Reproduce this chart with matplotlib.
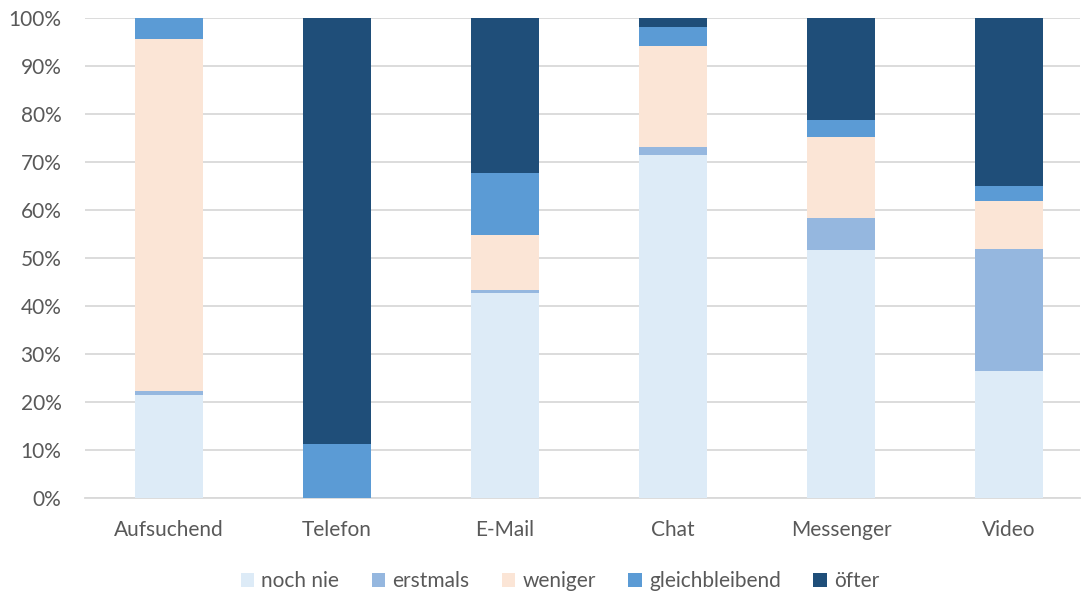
import matplotlib
matplotlib.use("Agg")
import matplotlib.pyplot as plt
import numpy as np

categories = ["Aufsuchend", "Telefon", "E-Mail", "Chat", "Messenger", "Video"]
series_names = ["noch nie", "erstmals", "weniger", "gleichbleibend", "öfter"]
noch_nie = [21.5, 0.0, 42.7, 71.5, 51.6, 26.5]
erstmals = [0.7, 0.0, 0.6, 1.7, 6.7, 25.3]
weniger = [73.5, 0.0, 11.5, 21.0, 17.0, 10.0]
gleichbleibend = [4.3, 11.25, 13.0, 3.9, 3.5, 3.1]
oefter = [0.0, 88.75, 32.2, 1.9, 21.2, 35.1]
colors = ["#DDEBF7", "#95B7DF", "#FBE5D6", "#5B9BD5", "#1F4E79"]

values = [noch_nie, erstmals, weniger, gleichbleibend, oefter]

plt.rcParams['font.family'] = ['Lato', 'DejaVu Sans']
FS = 15
fig = plt.figure(figsize=(10.82, 5.96), dpi=100)
ax = fig.add_axes([85/1082, 98/596, (1080-85)/1082, 480/596])

x = np.arange(len(categories))
bottom = np.zeros(len(categories))
for name, vals, c in zip(series_names, values, colors):
    v = np.array(vals)
    ax.bar(x, v, bottom=bottom, width=0.405, color=c, label=name, zorder=3)
    bottom += v

ax.set_ylim(0, 100)
ax.set_xlim(-0.5, (1080-85)/168 - 0.5)
ax.set_yticks(np.arange(0, 101, 10))
ax.set_yticklabels([f"{t}%" for t in range(0, 101, 10)])
ax.set_xticks(x)
ax.set_xticklabels(categories)
ax.grid(axis='y', color='#D9D9D9', linewidth=1.3, zorder=0)
for s in ['top', 'right', 'left']:
    ax.spines[s].set_visible(False)
ax.spines['bottom'].set_color('#D9D9D9')
ax.spines['bottom'].set_linewidth(1.3)
ax.tick_params(axis='both', length=0, labelsize=FS, colors='#595959')
ax.tick_params(axis='x', pad=16)
ax.tick_params(axis='y', pad=17)

leg = fig.legend(loc='center', bbox_to_anchor=(560/1082, 1 - 581/596), ncol=5,
                 frameon=False, fontsize=FS, handlelength=0.65, handleheight=0.65,
                 handletextpad=0.35, columnspacing=1.55)
for t in leg.get_texts():
    t.set_color('#595959')

fig.savefig("out.png", dpi=100)
